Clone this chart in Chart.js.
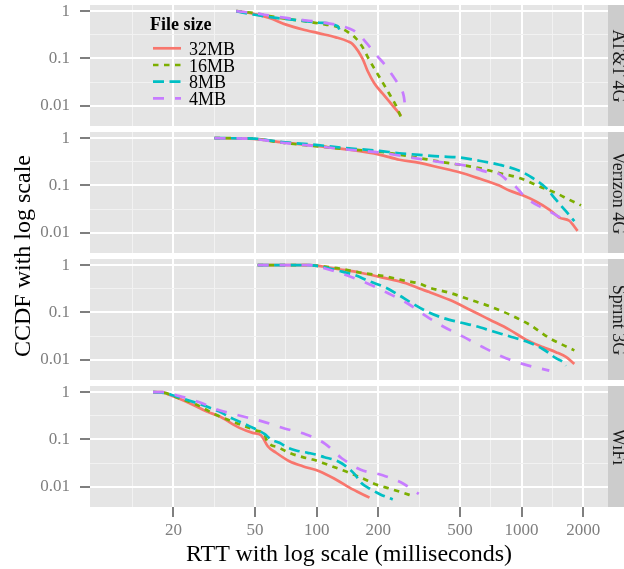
<!DOCTYPE html>
<html><head><meta charset="utf-8">
<script src="https://cdn.jsdelivr.net/npm/chart.js@4.4.1/dist/chart.umd.min.js"></script>
<style>
html,body{margin:0;padding:0;background:#fff;}
body{width:624px;height:569px;position:relative;overflow:hidden;font-family:"Liberation Serif","Times New Roman",serif;}
canvas{position:absolute;left:0;}
.strip{position:absolute;left:608px;width:16px;background:#CCCCCC;}
.stripText{position:absolute;height:18px;line-height:18px;font-size:18px;text-align:center;white-space:nowrap;color:#1a1a1a;transform:rotate(90deg);}
.title{position:absolute;font-size:24px;line-height:24px;height:24px;white-space:nowrap;text-align:center;color:#000;}
.leg{position:absolute;font-size:18px;line-height:18px;height:18px;white-space:nowrap;color:#000;}
</style>
</head><body>
<div id="root"></div>
<script>
// ---------------- data ----------------
const networks = ['AT&T 4G', 'Verizon 4G', 'Sprint 3G', 'WiFi'];
const fileSizes = ['32MB', '16MB', '8MB', '4MB'];
const seriesColors = ['#F8766D', '#7CAE00', '#00BFC4', '#C77CFF'];
const xMajorTicks = [20, 50, 100, 200, 500, 1000, 2000];
const xMinorTicks = [12.65, 31.62, 70.71, 141.4, 316.2, 707.1, 1414];
const yMajorTicks = [0.01, 0.1, 1];
const yMinorTicks = [0.03162, 0.3162];
const yTickLabels = ['0.01', '0.1', '1'];

// AT&T 4G
const att32_x = [40.5, 48.8, 58.8, 70.9, 85.5, 103, 124, 142, 150, 168, 177, 191, 210, 231, 258];
const att32_y = [1, 0.89, 0.72, 0.52, 0.41, 0.34, 0.28, 0.23, 0.20, 0.096, 0.055, 0.030, 0.018, 0.011, 0.0062];
const att16_x = [40.5, 48.8, 58.8, 70.9, 85.5, 103, 129, 141, 155, 168, 179, 190, 202, 226, 244, 258];
const att16_y = [1, 0.92, 0.79, 0.69, 0.62, 0.55, 0.45, 0.37, 0.27, 0.17, 0.10, 0.064, 0.041, 0.018, 0.010, 0.0057];
const att8_x = [40.5, 48.8, 63.4, 82.4, 103, 126.7, 129];
const att8_y = [1, 0.85, 0.72, 0.64, 0.57, 0.48, 0.41];
const att4_x = [40.5, 48.8, 58.8, 70.9, 85.5, 103, 124, 144, 156, 174, 195, 218, 235, 253, 266, 270];
const att4_y = [1, 0.92, 0.81, 0.72, 0.65, 0.59, 0.52, 0.43, 0.36, 0.22, 0.12, 0.069, 0.043, 0.026, 0.016, 0.010];

// Verizon 4G
const vz32_x = [31.7, 47, 68, 99, 144, 202, 253, 317, 397, 497, 622, 778, 871, 1012, 1175, 1365, 1527, 1709, 1876];
const vz32_y = [1, 0.98, 0.82, 0.69, 0.57, 0.45, 0.35, 0.30, 0.24, 0.19, 0.14, 0.10, 0.078, 0.062, 0.046, 0.031, 0.021, 0.018, 0.011];
const vz16_x = [31.7, 47, 68, 99, 144, 202, 253, 317, 397, 497, 622, 778, 975, 1219, 1471, 1709, 1949];
const vz16_y = [1, 0.99, 0.80, 0.68, 0.58, 0.52, 0.45, 0.38, 0.32, 0.275, 0.233, 0.183, 0.144, 0.096, 0.069, 0.050, 0.038];
const vz8_x = [31.7, 47, 68, 99, 144, 202, 253, 317, 397, 497, 622, 778, 975, 1132, 1315, 1471, 1646, 1809];
const vz8_y = [1, 0.99, 0.83, 0.72, 0.61, 0.54, 0.48, 0.446, 0.411, 0.392, 0.333, 0.275, 0.205, 0.144, 0.089, 0.050, 0.0286, 0.0176];
const vz4_x = [31.7, 47, 68, 99, 144, 202, 253, 323, 428, 536, 683, 778, 855, 921, 1031, 1111, 1243, 1365, 1585, 1742];
const vz4_y = [1, 0.98, 0.80, 0.68, 0.57, 0.50, 0.43, 0.36, 0.30, 0.262, 0.192, 0.175, 0.126, 0.101, 0.059, 0.046, 0.035, 0.0286, 0.020, 0.018];

// Sprint 3G
const sp32_x = [51.5, 92, 107, 129, 161.5, 210, 273, 317, 355, 444, 556, 696, 871, 1050, 1268, 1471, 1646, 1809];
const sp32_y = [1, 1, 0.937, 0.822, 0.70, 0.547, 0.414, 0.32, 0.27, 0.185, 0.116, 0.071, 0.0435, 0.0267, 0.0186, 0.0145, 0.0115, 0.0082];
const sp16_x = [51.5, 92, 107, 129, 161.5, 210, 273, 317, 355, 444, 556, 696, 871, 1091, 1365, 1646, 1809];
const sp16_y = [1, 1, 0.94, 0.85, 0.70, 0.593, 0.464, 0.41, 0.335, 0.262, 0.189, 0.136, 0.091, 0.0556, 0.0289, 0.0192, 0.0158];
const sp8_x = [51.5, 92, 104.3, 126.7, 152.7, 180.8, 217.9, 256, 283, 342, 412, 497, 599, 722, 871, 1050, 1268, 1471, 1615, 1646];
const sp8_y = [1, 1, 0.937, 0.77, 0.623, 0.457, 0.335, 0.223, 0.17, 0.107, 0.077, 0.0623, 0.0513, 0.0401, 0.0315, 0.0246, 0.0169, 0.0108, 0.0085, 0.0075];
const sp4_x = [51.5, 92, 110, 140, 179.4, 222, 278, 342, 412, 515, 645, 839, 1050, 1365];
const sp4_y = [1, 1, 0.85, 0.612, 0.401, 0.258, 0.155, 0.0836, 0.0513, 0.0313, 0.0186, 0.0108, 0.0078, 0.0059];

// WiFi
const wf32_x = [15.9, 17.7, 19.1, 21.4, 25.3, 28.9, 33.5, 42, 48.7, 53.5, 54.9, 57.7, 63.4, 73.6, 85.5, 103, 124, 150, 181];
const wf32_y = [1, 1, 0.88, 0.725, 0.525, 0.393, 0.309, 0.176, 0.138, 0.123, 0.105, 0.072, 0.0525, 0.0348, 0.0273, 0.0214, 0.0143, 0.0088, 0.0059];
const wf16_x = [15.9, 18.4, 20.2, 25.3, 28.3, 31.7, 40.4, 50.6, 55.6, 57.3, 65.8, 73.6, 85.5, 95.6, 109.1, 124.3, 144.4, 167.8, 194.9, 226.4, 263, 294];
const wf16_y = [1, 0.953, 0.81, 0.57, 0.447, 0.345, 0.224, 0.155, 0.127, 0.092, 0.0667, 0.052, 0.0423, 0.0378, 0.0311, 0.0252, 0.0198, 0.015, 0.0112, 0.0092, 0.0075, 0.0064];
const wf8_x = [15.9, 18.4, 20, 23.8, 28.6, 33.3, 38.9, 46.6, 55.6, 59.9, 65.8, 72.2, 79.3, 90.4, 99.3, 109.1, 124.3, 136.5, 152.7, 164.6, 180.8, 204.6, 235];
const wf8_y = [1, 0.953, 0.85, 0.67, 0.51, 0.393, 0.276, 0.194, 0.131, 0.1, 0.085, 0.067, 0.0586, 0.0523, 0.048, 0.0423, 0.036, 0.0287, 0.0188, 0.0122, 0.0092, 0.0069, 0.0054];
const wf4_x = [15.9, 17.7, 21.2, 27, 32.9, 42.8, 54.2, 69.6, 88.8, 110, 133, 164, 210, 265, 315];
const wf4_y = [1, 1, 0.838, 0.607, 0.426, 0.314, 0.242, 0.171, 0.128, 0.081, 0.0397, 0.0229, 0.0176, 0.0116, 0.0071];

const panelSeries = [
  [[att32_x, att32_y], [att16_x, att16_y], [att8_x, att8_y], [att4_x, att4_y]],
  [[vz32_x, vz32_y], [vz16_x, vz16_y], [vz8_x, vz8_y], [vz4_x, vz4_y]],
  [[sp32_x, sp32_y], [sp16_x, sp16_y], [sp8_x, sp8_y], [sp4_x, sp4_y]],
  [[wf32_x, wf32_y], [wf16_x, wf16_y], [wf8_x, wf8_y], [wf4_x, wf4_y]]
];

// ---------------- layout / style ----------------
const W = 624;
const PANEL_TOPS = [5, 132, 259, 386];
const PANEL_H = 121;
const PLOT_LEFT = 90, PLOT_RIGHT = 608;
const PAD = 20, XAXIS_H = 40;
const X_MIN = 7.83, X_MAX = 2640;
const Y_MIN = 0.00374, Y_MAX = 1.352;
const LINE_W = 2.7;
const dashes = [[], [5.5, 5.5], [11, 5.5], [11, 11]];
const FONT = '"Liberation Serif", "Times New Roman", serif';
const GREY50 = '#7F7F7F';

const root = document.getElementById('root');
const xMajorSet = new Set(xMajorTicks), yMajorSet = new Set(yMajorTicks);

const panelBg = {
  id: 'panelBg',
  beforeDraw(chart) {
    const {ctx, chartArea: a} = chart;
    ctx.save();
    ctx.fillStyle = '#E5E5E5';
    ctx.fillRect(a.left, a.top, a.right - a.left, a.bottom - a.top);
    ctx.restore();
  }
};

function gridOpts(majorSet, drawTicks) {
  return {
    drawOnChartArea: true,
    drawTicks: drawTicks,
    tickLength: 10,
    tickWidth: 2,
    color: c => (c.tick && majorSet.has(c.tick.value)) ? '#FFFFFF' : '#F2F2F2',
    lineWidth: c => (c.tick && majorSet.has(c.tick.value)) ? 2 : 1,
    tickColor: c => (c.tick && majorSet.has(c.tick.value)) ? GREY50 : 'rgba(0,0,0,0)'
  };
}

networks.forEach((net, p) => {
  const isLast = p === networks.length - 1;
  const cv = document.createElement('canvas');
  const h = PAD + PANEL_H + (isLast ? XAXIS_H : PAD);
  cv.width = W; cv.height = h;
  cv.style.top = (PANEL_TOPS[p] - PAD) + 'px';
  cv.style.width = W + 'px'; cv.style.height = h + 'px';
  root.appendChild(cv);

  const datasets = panelSeries[p].map((s, i) => ({
    label: fileSizes[i],
    data: s[0].map((x, k) => ({x: x, y: s[1][k]})),
    borderColor: seriesColors[i],
    backgroundColor: seriesColors[i],
    borderWidth: LINE_W,
    borderDash: dashes[i],
    borderCapStyle: 'butt',
    pointRadius: 0,
    fill: false,
    cubicInterpolationMode: 'monotone',
    order: 4 - i
  }));

  const xTicksAll = xMajorTicks.concat(xMinorTicks).sort((a, b) => a - b);
  const yTicksAll = yMajorTicks.concat(yMinorTicks).sort((a, b) => a - b);

  new Chart(cv, {
    type: 'line',
    data: {datasets},
    plugins: [panelBg],
    options: {
      responsive: false,
      animation: false,
      devicePixelRatio: 1,
      layout: {padding: {top: PAD, bottom: isLast ? 0 : PAD, left: 0, right: W - PLOT_RIGHT}},
      plugins: {legend: {display: false}, tooltip: {enabled: false}},
      scales: {
        x: {
          type: 'logarithmic',
          min: X_MIN, max: X_MAX,
          afterBuildTicks: s => { s.ticks = xTicksAll.map(v => ({value: v, major: false})); },
          afterFit: s => { s.height = isLast ? XAXIS_H : 0; },
          ticks: {
            display: isLast,
            autoSkip: false, maxRotation: 0, minRotation: 0,
            padding: 5,
            color: GREY50,
            font: {family: FONT, size: 17, lineHeight: 1},
            callback: v => xMajorSet.has(v) ? String(v) : ''
          },
          grid: gridOpts(xMajorSet, isLast),
          border: {display: false}
        },
        y: {
          type: 'logarithmic',
          min: Y_MIN, max: Y_MAX,
          afterBuildTicks: s => { s.ticks = yTicksAll.map(v => ({value: v, major: false})); },
          afterFit: s => { s.width = PLOT_LEFT; },
          ticks: {
            autoSkip: false,
            padding: 10,
            color: GREY50,
            font: {family: FONT, size: 17, lineHeight: 1},
            callback: v => { const k = yMajorTicks.indexOf(v); return k >= 0 ? yTickLabels[k] : ''; }
          },
          grid: gridOpts(yMajorSet, true),
          border: {display: false}
        }
      }
    }
  });

  // strip
  const st = document.createElement('div');
  st.className = 'strip';
  st.style.top = PANEL_TOPS[p] + 'px';
  st.style.height = PANEL_H + 'px';
  root.appendChild(st);
  const tx = document.createElement('div');
  tx.className = 'stripText';
  tx.textContent = net;
  tx.style.width = PANEL_H + 'px';
  tx.style.left = (618 - PANEL_H / 2) + 'px';
  tx.style.top = (PANEL_TOPS[p] + PANEL_H / 2 - 9) + 'px';
  root.appendChild(tx);
});

// axis titles
const xt = document.createElement('div');
xt.className = 'title';
xt.textContent = 'RTT with log scale (milliseconds)';
xt.style.width = '500px';
xt.style.left = ((PLOT_LEFT + PLOT_RIGHT) / 2 - 250) + 'px';
xt.style.top = '541.4px';
root.appendChild(xt);

const yt = document.createElement('div');
yt.className = 'title';
yt.textContent = 'CCDF with log scale';
yt.style.width = '300px';
const yMid = (PANEL_TOPS[0] + PANEL_TOPS[3] + PANEL_H) / 2;
yt.style.left = (21.9 - 150) + 'px';
yt.style.top = (yMid - 12) + 'px';
yt.style.transform = 'rotate(-90deg)';
root.appendChild(yt);

// legend (inside first panel)
const lgTitle = document.createElement('div');
lgTitle.className = 'leg';
lgTitle.style.fontWeight = 'bold';
lgTitle.textContent = 'File size';
lgTitle.style.left = '150px';
lgTitle.style.top = (30.5 - 15.07) + 'px';
root.appendChild(lgTitle);
const keyY = [48.3, 65, 81.7, 98.3];
const svgNS = 'http://www.w3.org/2000/svg';
const svg = document.createElementNS(svgNS, 'svg');
svg.setAttribute('width', W); svg.setAttribute('height', 120);
svg.style.position = 'absolute'; svg.style.left = '0px'; svg.style.top = '0px';
fileSizes.forEach((fs, i) => {
  const ln = document.createElementNS(svgNS, 'line');
  ln.setAttribute('x1', 153); ln.setAttribute('x2', 181);
  ln.setAttribute('y1', keyY[i]); ln.setAttribute('y2', keyY[i]);
  ln.setAttribute('stroke', seriesColors[i]);
  ln.setAttribute('stroke-width', LINE_W);
  if (dashes[i].length) ln.setAttribute('stroke-dasharray', dashes[i].join(' '));
  svg.appendChild(ln);
  const lb = document.createElement('div');
  lb.className = 'leg';
  lb.textContent = fs;
  lb.style.left = '189px';
  lb.style.top = (keyY[i] + 6.7 - 15.07) + 'px';
  root.appendChild(lb);
});
root.appendChild(svg);
</script>
</body></html>
